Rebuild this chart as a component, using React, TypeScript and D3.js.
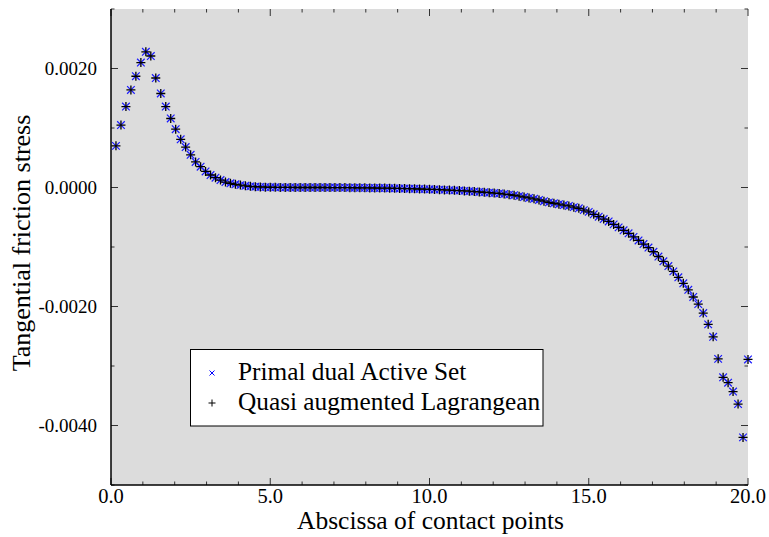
import React from "react";
import * as d3 from "d3";

// Abscissa of contact nodes
const abscissa: number[] = [
  0.156, 0.313, 0.469, 0.625, 0.781, 0.938, 1.094, 1.25, 1.406, 1.563,
  1.719, 1.875, 2.031, 2.188, 2.344, 2.5, 2.656, 2.813, 2.969, 3.125,
  3.281, 3.438, 3.594, 3.75, 3.906, 4.063, 4.219, 4.375, 4.531, 4.688,
  4.844, 5.0, 5.156, 5.313, 5.469, 5.625, 5.781, 5.938, 6.094, 6.25,
  6.406, 6.563, 6.719, 6.875, 7.031, 7.188, 7.344, 7.5, 7.656, 7.813,
  7.969, 8.125, 8.281, 8.438, 8.594, 8.75, 8.906, 9.063, 9.219, 9.375,
  9.531, 9.688, 9.844, 10.0, 10.156, 10.313, 10.469, 10.625, 10.781, 10.938,
  11.094, 11.25, 11.406, 11.563, 11.719, 11.875, 12.031, 12.188, 12.344, 12.5,
  12.656, 12.813, 12.969, 13.125, 13.281, 13.438, 13.594, 13.75, 13.906, 14.063,
  14.219, 14.375, 14.531, 14.688, 14.844, 15.0, 15.156, 15.313, 15.469, 15.625,
  15.781, 15.938, 16.094, 16.25, 16.406, 16.563, 16.719, 16.875, 17.031, 17.188,
  17.344, 17.5, 17.656, 17.813, 17.969, 18.125, 18.281, 18.438, 18.594, 18.75,
  18.906, 19.063, 19.219, 19.375, 19.531, 19.688, 19.844, 20.0,
];

// Tangential friction stress, in units of 1e-3
const primalDualActiveSet: number[] = [
  0.70, 1.05, 1.36, 1.64, 1.87, 2.10, 2.28, 2.21, 1.84, 1.58,
  1.36, 1.16, 0.98, 0.81, 0.68, 0.55, 0.43, 0.35, 0.27, 0.21,
  0.165, 0.125, 0.092, 0.070, 0.054, 0.040, 0.028, 0.019, 0.013, 0.009,
  0.006, 0.004, 0.003, 0.002, 0.001, 0.001, 0.0, 0.0, 0.0, 0.0,
  0.0, 0.0, 0.0, -0.001, -0.001, -0.002, -0.002, -0.003, -0.004, -0.005,
  -0.006, -0.007, -0.008, -0.009, -0.010, -0.012, -0.014, -0.016, -0.018, -0.020,
  -0.022, -0.025, -0.027, -0.030, -0.033, -0.036, -0.040, -0.044, -0.048, -0.052,
  -0.057, -0.062, -0.068, -0.074, -0.080, -0.087, -0.094, -0.100, -0.110, -0.120,
  -0.130, -0.145, -0.160, -0.175, -0.190, -0.210, -0.230, -0.250, -0.265, -0.280,
  -0.295, -0.310, -0.330, -0.350, -0.380, -0.410, -0.450, -0.490, -0.530, -0.570,
  -0.620, -0.670, -0.720, -0.770, -0.830, -0.890, -0.950, -1.010, -1.080, -1.160,
  -1.240, -1.320, -1.410, -1.510, -1.610, -1.720, -1.840, -1.960, -2.110, -2.300,
  -2.510, -2.880, -3.190, -3.280, -3.430, -3.640, -4.200, -2.890,
];

const quasiAugmentedLagrangean: number[] = [
  0.70, 1.05, 1.36, 1.64, 1.87, 2.10, 2.28, 2.21, 1.84, 1.58,
  1.36, 1.16, 0.98, 0.81, 0.68, 0.55, 0.43, 0.35, 0.27, 0.21,
  0.165, 0.125, 0.092, 0.070, 0.054, 0.040, 0.028, 0.019, 0.013, 0.009,
  0.006, 0.004, 0.003, 0.002, 0.001, 0.001, 0.0, 0.0, 0.0, 0.0,
  0.0, 0.0, 0.0, -0.001, -0.001, -0.002, -0.002, -0.003, -0.004, -0.005,
  -0.006, -0.007, -0.008, -0.009, -0.010, -0.012, -0.014, -0.016, -0.018, -0.020,
  -0.022, -0.025, -0.027, -0.030, -0.033, -0.036, -0.040, -0.044, -0.048, -0.052,
  -0.057, -0.062, -0.068, -0.074, -0.080, -0.087, -0.094, -0.100, -0.110, -0.120,
  -0.130, -0.145, -0.160, -0.175, -0.190, -0.210, -0.230, -0.250, -0.265, -0.280,
  -0.295, -0.310, -0.330, -0.350, -0.380, -0.410, -0.450, -0.490, -0.530, -0.570,
  -0.620, -0.670, -0.720, -0.770, -0.830, -0.890, -0.950, -1.010, -1.080, -1.160,
  -1.240, -1.320, -1.410, -1.510, -1.610, -1.720, -1.840, -1.960, -2.110, -2.300,
  -2.510, -2.880, -3.190, -3.280, -3.430, -3.640, -4.200, -2.890,
];

const xMajorTicks = [0, 5, 10, 15, 20];
const xMinorTicks = [1, 2, 3, 4, 6, 7, 8, 9, 11, 12, 13, 14, 16, 17, 18, 19];
const yMajorTicks = [-4, -2, 0, 2];
const yMinorTicks = [-5, -3, -1, 1, 3];
const xTickLabels = ["0.0", "5.0", "10.0", "15.0", "20.0"];
const yTickLabels = ["-0.0040", "-0.0020", "0.0000", "0.0020"];

const seriesNames = ["Primal dual Active Set", "Quasi augmented Lagrangean"];

const W = 769;
const H = 537;
const M = { left: 111, right: 748, top: 9, bottom: 485 };
const FONT = "'Liberation Serif', 'Times New Roman', serif";

export default function App() {
  const x = d3.scaleLinear().domain([0, 20]).range([M.left, M.right]);
  const y = d3.scaleLinear().domain([-5, 3]).range([M.bottom, M.top]);
  const majorLen = 7;
  const minorLen = 3.5;
  const tickColor = "#333";

  const cross = (s: number) => `M${-s},${-s}L${s},${s}M${-s},${s}L${s},${-s}`;
  const plus = (s: number) => `M${-s},0H${s}M0,${-s}V${s}`;

  return (
    <svg
      width={W}
      height={H}
      style={{ position: "absolute", left: 0, top: 0, background: "#fff" }}
      fontFamily={FONT}
    >
      <rect x={M.left} y={M.top} width={M.right - M.left} height={M.bottom - M.top} fill="#dcdcdc" />

      {/* ticks on all four sides, pointing inward */}
      {xMajorTicks.map((t) => (
        <g key={"xM" + t}>
          <line x1={x(t)} x2={x(t)} y1={M.bottom} y2={M.bottom - majorLen} stroke={tickColor} />
          <line x1={x(t)} x2={x(t)} y1={M.top} y2={M.top + majorLen} stroke={tickColor} />
        </g>
      ))}
      {xMinorTicks.map((t) => (
        <g key={"xm" + t}>
          <line x1={x(t)} x2={x(t)} y1={M.bottom} y2={M.bottom - minorLen} stroke={tickColor} />
          <line x1={x(t)} x2={x(t)} y1={M.top} y2={M.top + minorLen} stroke={tickColor} />
        </g>
      ))}
      {yMajorTicks.map((t) => (
        <g key={"yM" + t}>
          <line x1={M.left} x2={M.left + majorLen} y1={y(t)} y2={y(t)} stroke={tickColor} />
          <line x1={M.right} x2={M.right - majorLen} y1={y(t)} y2={y(t)} stroke={tickColor} />
        </g>
      ))}
      {yMinorTicks.map((t) => (
        <g key={"ym" + t}>
          <line x1={M.left} x2={M.left + minorLen} y1={y(t)} y2={y(t)} stroke={tickColor} />
          <line x1={M.right} x2={M.right - minorLen} y1={y(t)} y2={y(t)} stroke={tickColor} />
        </g>
      ))}

      {/* axis lines */}
      <line x1={M.left} x2={M.left} y1={M.top} y2={M.bottom} stroke="#000" strokeWidth={1.5} />
      <line x1={M.left} x2={M.right} y1={M.bottom} y2={M.bottom} stroke="#000" strokeWidth={1.5} />

      {/* tick labels */}
      {xMajorTicks.map((t, i) => (
        <text key={"xl" + t} x={x(t)} y={503} textAnchor="middle" fontSize={20.5} fill="#000">
          {xTickLabels[i]}
        </text>
      ))}
      {yMajorTicks.map((t, i) => (
        <text key={"yl" + t} x={97} y={y(t) + 6.5} textAnchor="end" fontSize={19} fill="#000">
          {yTickLabels[i]}
        </text>
      ))}

      {/* axis titles */}
      <text x={(M.left + M.right) / 2 + 1} y={529} textAnchor="middle" fontSize={25.5} fill="#000">
        Abscissa of contact points
      </text>
      <text
        transform={`translate(30,${(M.top + M.bottom) / 2 - 4}) rotate(-90)`}
        textAnchor="middle"
        fontSize={26}
        fill="#000"
      >
        Tangential friction stress
      </text>

      {/* series */}
      <g>
        {primalDualActiveSet.map((v, i) => (
          <path
            key={"p" + i}
            d={cross(3.8)}
            transform={`translate(${x(abscissa[i])},${y(v)})`}
            stroke="#1a1aff"
            strokeWidth={1.2}
            fill="none"
          />
        ))}
      </g>
      <g>
        {quasiAugmentedLagrangean.map((v, i) => (
          <path
            key={"q" + i}
            d={plus(4.5)}
            transform={`translate(${x(abscissa[i])},${y(v)})`}
            stroke="#000"
            strokeWidth={1.3}
            fill="none"
          />
        ))}
      </g>

      {/* legend */}
      <rect x={190.5} y={349.5} width={352.5} height={76.5} fill="#fff" stroke="#000" strokeWidth={1} />
      <path d={cross(2.5)} transform="translate(212,373)" stroke="#0000ff" strokeWidth={1} fill="none" />
      <path d={plus(3.5)} transform="translate(212,403)" stroke="#000" strokeWidth={1} fill="none" />
      <text x={238} y={380} fontSize={25.3} fill="#000">
        {seriesNames[0]}
      </text>
      <text x={238} y={410} fontSize={25.3} fill="#000">
        {seriesNames[1]}
      </text>
    </svg>
  );
}
